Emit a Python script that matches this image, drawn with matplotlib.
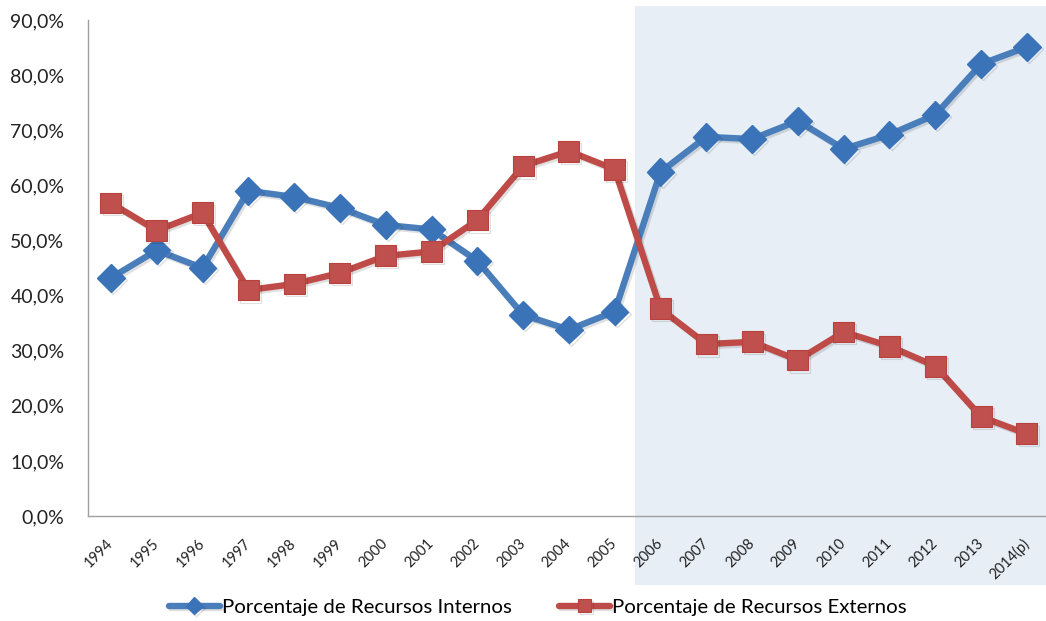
import matplotlib
matplotlib.use("Agg")
import matplotlib.pyplot as plt
import matplotlib.patheffects as pe
from matplotlib.patches import Rectangle
from matplotlib.transforms import blended_transform_factory
from matplotlib.ticker import FuncFormatter

years = ["1994", "1995", "1996", "1997", "1998", "1999", "2000", "2001", "2002",
         "2003", "2004", "2005", "2006", "2007", "2008", "2009", "2010", "2011",
         "2012", "2013", "2014(p)"]
internos = [43.2, 48.2, 45.0, 59.0, 57.9, 55.9, 52.8, 52.0, 46.3, 36.5, 33.8,
            37.1, 62.4, 68.8, 68.4, 71.7, 66.6, 69.2, 72.8, 82.0, 85.1]
externos = [56.8, 51.8, 55.0, 41.0, 42.1, 44.1, 47.2, 48.0, 53.7, 63.5, 66.2,
            62.9, 37.6, 31.2, 31.6, 28.3, 33.4, 30.8, 27.2, 18.0, 14.9]
yticks = [0, 10, 20, 30, 40, 50, 60, 70, 80, 90]

W, H = 1046, 621
fig = plt.figure(figsize=(W / 100, H / 100), dpi=100)
plt.rcParams["font.family"] = ["Lato", "DejaVu Sans"]

left, right, bottom, top = 88, 1046, 516, 20
ax = fig.add_axes([left / W, (H - bottom) / H, (right - left) / W, (bottom - top) / H])
ax.set_facecolor("none")

shadow = [pe.SimpleLineShadow(offset=(1.5, -1.5), shadow_color="#000000", alpha=0.12),
          pe.Normal()]

x = list(range(len(years)))
ax.plot(x, internos, color="#4A7EBB", lw=4.6, marker="D", ms=14,
        mfc="#3B73B9", mec="#3B73B9", solid_capstyle="round",
        label="Porcentaje de Recursos Internos", zorder=3, path_effects=shadow)
ax.plot(x, externos, color="#BE4B48", lw=4.6, marker="s", ms=15,
        mfc="#C0504D", mec="#B8403D", mew=0.8, solid_capstyle="round",
        label="Porcentaje de Recursos Externos", zorder=3, path_effects=shadow)

ax.set_xlim(-0.5, -0.5 + (right - left) / 45.8)
ax.set_ylim(0, 90)
ax.set_yticks(yticks)
ax.yaxis.set_major_formatter(FuncFormatter(lambda v, p: f"{v:.1f}%".replace(".", ",")))
ax.set_xticks(x)
ax.set_xticklabels(years, rotation=45, ha="right", va="center",
                   rotation_mode="anchor", fontsize=10.5, color="#222222")
ax.tick_params(axis="x", length=0, pad=18)
ax.tick_params(axis="y", length=0, pad=17, labelsize=14, labelcolor="#222222")

for side in ("top", "right"):
    ax.spines[side].set_visible(False)
for side in ("left", "bottom"):
    ax.spines[side].set_color("#A0A0A0")
    ax.spines[side].set_linewidth(1.0)

# shaded period band, spanning the tick labels below the axis
trans = blended_transform_factory(ax.transData, fig.transFigure)
band = Rectangle((11.45, (H - 585) / H), 30, (585 - 6) / H, transform=trans,
                 facecolor="#E7EEF6", edgecolor="none", clip_on=False, zorder=0)
ax.add_patch(band)

fig.legend(loc="center", bbox_to_anchor=(0.514, (H - 607) / H), ncol=2,
           frameon=False, fontsize=14.7, handlelength=2.5, handletextpad=0.1,
           columnspacing=2.3, markerscale=0.6)

fig.savefig("out.png", dpi=100)
